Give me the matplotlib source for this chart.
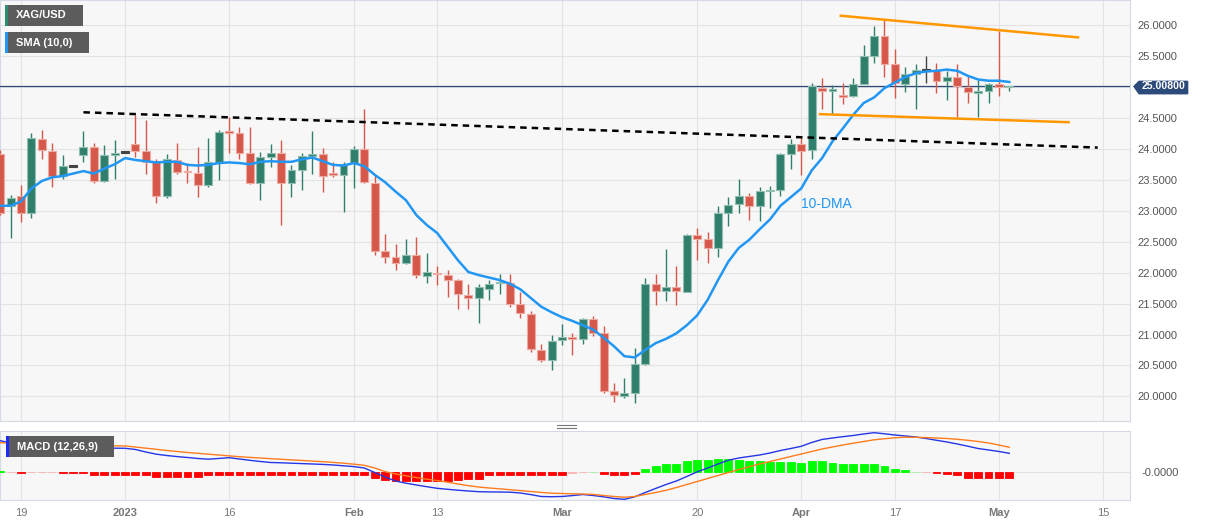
import matplotlib
matplotlib.use("Agg")
import matplotlib.pyplot as plt
import numpy as np
from matplotlib.patches import Rectangle, Polygon
from matplotlib.lines import Line2D
from matplotlib.transforms import blended_transform_factory

plt.rcParams["font.family"] = ["Liberation Sans", "DejaVu Sans"]

# daily XAG/USD candles, weekdays 15 Dec 2022 -> 2 May 2023 (Good Friday skipped)
opens = [23.92, 23.08, 23.23, 22.96, 24.16, 23.97, 23.56, 23.72, 23.90, 24.03,
         23.48, 23.90, 23.95, 24.07, 23.96, 23.78, 23.23, 23.82, 23.64, 23.61,
         23.42, 23.78, 24.28, 24.25, 23.93, 23.45, 23.86, 23.94, 23.45, 23.66,
         23.89, 23.92, 23.60, 23.58, 23.77, 24.00, 23.45, 22.35, 22.26, 22.16,
         22.28, 21.95, 22.00, 21.96, 21.88, 21.64, 21.59, 21.73, 21.83, 21.83,
         21.49, 21.33, 20.75, 20.59, 20.91, 20.96, 20.92, 21.25, 21.02, 20.08,
         20.01, 20.06, 20.53, 21.81, 21.70, 21.77, 21.69, 22.60, 22.54, 22.39,
         22.97, 23.11, 23.24, 23.08, 23.32, 23.33, 23.92, 24.08, 23.98, 24.99,
         24.93, 24.86, 24.85, 25.05, 25.50, 25.82, 25.37, 25.05, 25.21, 25.27,
         25.28, 25.10, 25.16, 25.00, 24.91, 24.93, 25.05, 25.00]
highs = [23.98, 23.25, 23.42, 24.25, 24.30, 24.09, 23.90, 23.73, 24.29, 24.09,
         24.06, 24.15, 23.96, 24.55, 24.47, 23.84, 23.92, 24.10, 23.77, 24.03,
         24.18, 24.31, 24.51, 24.36, 24.35, 23.95, 24.08, 24.15, 23.74, 23.94,
         24.29, 24.01, 23.79, 23.78, 24.05, 24.64, 23.58, 22.62, 22.46, 22.54,
         22.58, 22.31, 22.10, 22.04, 21.89, 21.82, 21.82, 21.88, 21.98, 21.98,
         21.68, 21.38, 20.85, 21.00, 21.17, 21.02, 21.26, 21.30, 21.13, 20.22,
         20.29, 20.79, 21.92, 21.98, 22.38, 22.10, 22.62, 22.72, 22.65, 23.07,
         23.22, 23.52, 23.28, 23.38, 23.40, 23.94, 24.16, 24.19, 25.06, 25.14,
         25.03, 25.07, 25.14, 25.68, 25.99, 26.08, 25.61, 25.32, 25.37, 25.50,
         25.39, 25.25, 25.37, 25.19, 25.11, 25.07, 25.91, 25.02]
lows = [22.93, 22.56, 22.82, 22.88, 23.83, 23.38, 23.51, 23.71, 23.78, 23.45,
        23.47, 23.52, 23.94, 23.87, 23.59, 23.12, 23.20, 23.59, 23.44, 23.22,
        23.38, 23.50, 23.93, 23.83, 23.43, 23.17, 23.70, 22.77, 23.22, 23.33,
        23.60, 23.31, 23.54, 22.98, 23.36, 23.44, 22.28, 22.15, 22.04, 22.14,
        21.91, 21.83, 21.80, 21.61, 21.42, 21.42, 21.19, 21.56, 21.65, 21.45,
        21.26, 20.72, 20.55, 20.43, 20.83, 20.67, 20.85, 20.98, 20.05, 19.91,
        19.98, 19.89, 20.50, 21.48, 21.54, 21.48, 21.68, 22.21, 22.15, 22.26,
        22.75, 22.96, 22.85, 22.83, 23.04, 23.24, 23.68, 23.58, 23.83, 24.64,
        24.56, 24.73, 24.83, 25.04, 25.39, 25.16, 24.82, 24.92, 24.64, 25.07,
        24.90, 24.79, 24.51, 24.74, 24.51, 24.74, 24.85, 24.93]
closes = [22.97, 23.20, 22.96, 24.17, 23.98, 23.56, 23.72, 23.72, 24.03, 23.48,
          23.90, 23.94, 23.95, 23.96, 23.78, 23.23, 23.83, 23.63, 23.62, 23.42,
          23.78, 24.27, 24.26, 23.94, 23.45, 23.86, 23.93, 23.45, 23.66, 23.88,
          23.92, 23.56, 23.58, 23.75, 23.99, 23.47, 22.35, 22.26, 22.16, 22.28,
          21.96, 22.01, 21.97, 21.88, 21.65, 21.59, 21.76, 21.82, 21.85, 21.49,
          21.34, 20.76, 20.59, 20.90, 20.96, 20.92, 21.25, 21.03, 20.09, 20.02,
          20.05, 20.52, 21.81, 21.70, 21.77, 21.70, 22.60, 22.55, 22.39, 22.96,
          23.10, 23.24, 23.08, 23.32, 23.34, 23.92, 24.08, 23.97, 25.01, 24.93,
          24.96, 24.84, 25.05, 25.50, 25.82, 25.37, 25.06, 25.21, 25.28, 25.27,
          25.10, 25.16, 25.01, 24.91, 24.93, 25.05, 25.00, 25.008]
sma10 = [23.08, 23.08, 23.15, 23.36, 23.48, 23.54, 23.56, 23.60, 23.64, 23.60,
         23.68, 23.75, 23.85, 23.82, 23.80, 23.78, 23.79, 23.79, 23.74, 23.73,
         23.74, 23.77, 23.78, 23.77, 23.75, 23.79, 23.80, 23.79, 23.79, 23.83,
         23.86, 23.80, 23.74, 23.73, 23.77, 23.72, 23.58, 23.46, 23.31, 23.17,
         22.93, 22.77, 22.64, 22.42, 22.20, 22.01, 21.96, 21.92, 21.88, 21.82,
         21.73, 21.59, 21.45, 21.36, 21.28, 21.22, 21.15, 21.08, 20.95, 20.81,
         20.65, 20.63, 20.75, 20.86, 20.93, 21.02, 21.15, 21.31, 21.56, 21.88,
         22.18, 22.40, 22.53, 22.70, 22.86, 23.08, 23.22, 23.36, 23.65, 23.85,
         24.12, 24.33, 24.55, 24.74, 24.83, 24.98, 25.07, 25.16, 25.22, 25.25,
         25.26, 25.28, 25.26, 25.18, 25.12, 25.10, 25.10, 25.08]

macd_line = [0.894, 0.83, 0.79, 0.77, 0.76, 0.75, 0.74, 0.73, 0.72, 0.705,
             0.69, 0.68, 0.677, 0.643, 0.571, 0.509, 0.471, 0.44, 0.414, 0.386,
             0.366, 0.386, 0.409, 0.371, 0.334, 0.30, 0.271, 0.263, 0.251, 0.24,
             0.229, 0.217, 0.20, 0.177, 0.154, 0.114, -0.014, -0.143, -0.257, -0.32,
             -0.371, -0.42, -0.466, -0.494, -0.52, -0.543, -0.563, -0.569, -0.571, -0.577,
             -0.60, -0.646, -0.70, -0.706, -0.70, -0.674, -0.643, -0.671, -0.709, -0.757,
             -0.78, -0.709, -0.586, -0.471, -0.357, -0.257, -0.129, 0.006, 0.114, 0.229,
             0.337, 0.40, 0.443, 0.486, 0.543, 0.614, 0.671, 0.734, 0.843, 0.929,
             0.971, 1.009, 1.043, 1.086, 1.123, 1.091, 1.057, 1.029, 1.00, 0.957,
             0.906, 0.857, 0.80, 0.737, 0.671, 0.629, 0.586, 0.534]
signal_line = [0.837, 0.829, 0.82, 0.814, 0.806, 0.80, 0.791, 0.783, 0.774, 0.766,
               0.754, 0.749, 0.743, 0.714, 0.68, 0.649, 0.614, 0.586, 0.557, 0.534,
               0.509, 0.486, 0.46, 0.437, 0.417, 0.40, 0.38, 0.363, 0.346, 0.329,
               0.311, 0.294, 0.274, 0.251, 0.223, 0.191, 0.114, 0.011, -0.057, -0.109,
               -0.157, -0.206, -0.243, -0.291, -0.343, -0.391, -0.429, -0.457, -0.48, -0.506,
               -0.531, -0.557, -0.583, -0.606, -0.614, -0.623, -0.629, -0.64, -0.671, -0.70,
               -0.72, -0.70, -0.643, -0.586, -0.523, -0.443, -0.357, -0.271, -0.186, -0.10,
               -0.014, 0.071, 0.149, 0.229, 0.30, 0.371, 0.443, 0.514, 0.586, 0.657,
               0.714, 0.771, 0.823, 0.871, 0.92, 0.949, 0.977, 0.994, 0.991, 0.983,
               0.971, 0.957, 0.934, 0.906, 0.871, 0.829, 0.771, 0.706]
macd_hist = [0.023, -0.009, -0.029, -0.014, -0.014, -0.014, -0.043, -0.043, -0.043, -0.077,
             -0.077, -0.077, -0.077, -0.077, -0.077, -0.143, -0.143, -0.143, -0.143, -0.129,
             -0.08, -0.077, -0.074, -0.077, -0.077, -0.08, -0.077, -0.077, -0.074, -0.077,
             -0.077, -0.077, -0.08, -0.077, -0.077, -0.08, -0.163, -0.229, -0.257, -0.266,
             -0.266, -0.257, -0.257, -0.243, -0.229, -0.214, -0.2, -0.077, -0.077, -0.077,
             -0.077, -0.077, -0.077, -0.077, -0.077, -0.017, -0.014, 0.014, -0.071, -0.077,
             -0.077, -0.071, 0.094, 0.163, 0.22, 0.237, 0.306, 0.334, 0.334, 0.363,
             0.363, 0.351, 0.314, 0.306, 0.286, 0.286, 0.286, 0.257, 0.314, 0.306,
             0.257, 0.237, 0.22, 0.22, 0.22, 0.163, 0.086, 0.049, 0.011, -0.014,
             -0.029, -0.049, -0.077, -0.163, -0.163, -0.163, -0.163, -0.163]

# x axis labels at bar positions
date_ticks = [2, 12, 22, 34, 42, 54, 67, 77, 86, 96, 106]
date_labels = ["19", "2023", "16", "Feb", "13", "Mar", "20", "Apr", "17", "May", "15"]
month_labels = ["2023", "Feb", "Mar", "Apr", "May"]

price_ticks = [20.0, 20.5, 21.0, 21.5, 22.0, 22.5, 23.0, 23.5, 24.0, 24.5, 25.0, 25.5, 26.0]
last_price = 25.008

# drawn lines: (bar index, price)
resist_x, resist_y = [8, 105.5], [24.59, 24.02]
chan_top_x, chan_top_y = [80.8, 103.6], [26.15, 25.80]
chan_bot_x, chan_bot_y = [78.8, 102.7], [24.56, 24.43]

GREEN, GREEN_EDGE = "#2f7f6c", "#93bfb1"
RED, RED_EDGE = "#d5584a", "#efaaa1"
DOJI = "#444444"
GRID = "#e3e3e3"
SPINE = "#d3d9e5"
NAVY = "#2d4b7a"
W, H = 1207, 526

fig = plt.figure(figsize=(W / 100, H / 100), dpi=100)
fig.patch.set_facecolor("white")
ax = fig.add_axes([0, 1 - 421 / H, 1130 / W, 421 / H])
ax2 = fig.add_axes([0, 1 - 500 / H, 1130 / W, 69 / H])

x = np.arange(len(closes))
o = np.array(opens)
c = np.array(closes)
face = np.where(c > o, GREEN, np.where(c < o, RED, DOJI))
edge = np.where(c > o, GREEN_EDGE, np.where(c < o, RED_EDGE, DOJI))

# ---- price panel ----
ax.set_facecolor("#f7f7f7")
ax.vlines(x, lows, highs, colors=face, lw=1.0, zorder=3)
body = np.maximum(np.abs(c - o), 0.025)
bottom = np.minimum(o, c) - (body - np.abs(c - o)) / 2
ax.bar(x, body, bottom=bottom, width=0.76, color=face, edgecolor=edge,
       linewidth=0.8, zorder=3.1)

ax.plot(x, sma10, color="#2196f3", lw=1.8, zorder=4)
ax.plot(resist_x, resist_y, color="black", lw=1.8, dashes=(2.6, 2.0), zorder=4)
ax.plot(chan_top_x, chan_top_y, color="#ff9800", lw=1.8, zorder=4)
ax.plot(chan_bot_x, chan_bot_y, color="#ff9800", lw=1.8, zorder=4)
ax.axhline(last_price, color=NAVY, lw=0.9, zorder=2.8)
ax.text(77, 23.11, "10-DMA", color="#2196f3", fontsize=10, va="center", ha="left", zorder=5)

ax.set_xlim(-0.02, 108.6)
ax.set_ylim(19.603, 26.404)
ax.set_xticks(date_ticks)
ax.tick_params(axis="x", length=0, labelbottom=False)
ax.yaxis.tick_right()
ax.set_yticks(price_ticks)
ax.set_yticklabels(["" if p == 25.0 else f"{p:.4f}" for p in price_ticks])
ax.tick_params(axis="y", length=0, pad=5, labelsize=8, labelcolor="#555555")
ax.grid(True, color=GRID, lw=0.8)
ax.set_axisbelow(True)
for s in ax.spines.values():
    s.set_color(SPINE)

# last price tag
tr = blended_transform_factory(ax.transAxes, ax.transData)
tag = Polygon([(1.0035, last_price), (1.008, 25.09), (1.051, 25.09),
               (1.051, 24.89), (1.008, 24.89)], closed=True,
              facecolor=NAVY, edgecolor=NAVY, transform=tr, clip_on=False, zorder=10)
ax.add_patch(tag)
ax.text(1.0295, last_price, "25.00800", transform=tr, color="white", fontsize=7.6,
        fontweight="bold", ha="center", va="center", clip_on=False, zorder=11)

# ---- MACD panel ----
ax2.set_facecolor("#f7f7f7")
hist = np.array(macd_hist)
hcol = np.where(hist >= 0, np.where(hist < 0.02, "#a8f0a8", "#00ff00"),
                np.where(hist > -0.02, "#ffb3b3", "#ff0000"))
ax2.bar(x, hist, width=0.76, color=hcol, edgecolor=hcol, linewidth=0.6, zorder=3)
ax2.plot(x, macd_line, color="#2436e6", lw=1.0, zorder=4)
ax2.plot(x, signal_line, color="#ff7c1c", lw=1.0, zorder=4)
ax2.set_xlim(-0.02, 108.6)
ax2.set_ylim(-0.8, 1.171)
ax2.set_xticks(date_ticks)
ax2.set_xticklabels(date_labels)
for lab in ax2.get_xticklabels():
    if lab.get_text() in month_labels:
        lab.set_fontweight("bold")
ax2.tick_params(axis="x", length=0, pad=6, labelsize=8, labelcolor="#777777")
ax2.yaxis.tick_right()
ax2.set_yticks([0])
ax2.set_yticklabels(["-0.0000"])
ax2.tick_params(axis="y", length=0, pad=8, labelsize=8, labelcolor="#555555")
ax2.grid(True, color=GRID, lw=0.8)
ax2.set_axisbelow(True)
for s in ax2.spines.values():
    s.set_color(SPINE)


# ---- label boxes (pixel positions from the top-left) ----
def label_box(x0, y0, x1, y1, strip, text):
    fig.add_artist(Rectangle((x0 / W, 1 - y1 / H), (x1 - x0) / W, (y1 - y0) / H,
                             transform=fig.transFigure, facecolor="#5c5c5c",
                             edgecolor="none", zorder=20))
    fig.add_artist(Rectangle((x0 / W, 1 - y1 / H), 2.5 / W, (y1 - y0) / H,
                             transform=fig.transFigure, facecolor=strip,
                             edgecolor="none", zorder=21))
    fig.text((x0 + 11) / W, 1 - (y0 + y1) / 2 / H, text, color="white", fontsize=8,
             fontweight="bold", va="center", ha="left", zorder=22)


label_box(5, 5, 83, 26, "#2e8a70", "XAG/USD")
label_box(5, 32, 89, 53, "#2196f3", "SMA (10,0)")
label_box(6, 436, 114, 457, "#1a2bff", "MACD (12,26,9)")

# resize handle between panels
for yy in (425.0, 427.5):
    fig.add_artist(Line2D([557 / W, 576 / W], [1 - yy / H, 1 - yy / H],
                          transform=fig.transFigure, color="#777777", lw=0.8))

fig.savefig("out.png", dpi=100)
